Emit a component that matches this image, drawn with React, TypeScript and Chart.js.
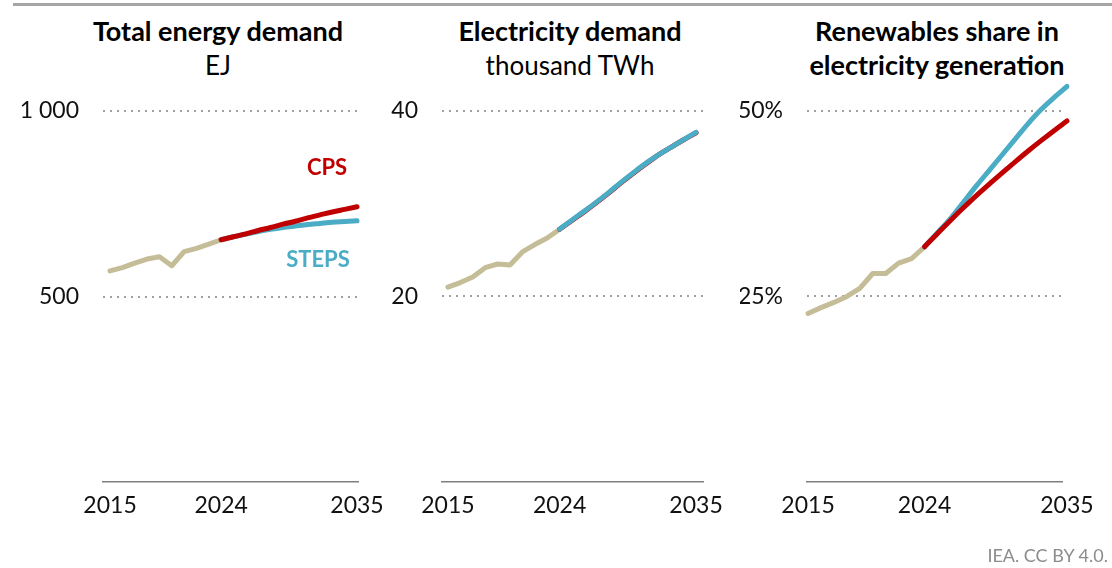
import React, { useEffect, useRef } from "react";
import { Chart, registerables } from "chart.js";

Chart.register(...registerables);

// ---------- data ----------
const years = [2015, 2016, 2017, 2018, 2019, 2020, 2021, 2022, 2023, 2024, 2025, 2026, 2027, 2028, 2029, 2030, 2031, 2032, 2033, 2034, 2035];
const xTickYears = [2015, 2024, 2035];

// Total energy demand (EJ)
const energyHistory = [569, 578, 590, 601, 607, 583, 621, 630, 641, 653];
const energyCPS = [653, 661, 669, 678, 686, 695, 703, 712, 720, 728, 735, 742];
const energySTEPS = [653, 661, 668, 675, 681, 686, 690, 694, 697, 700, 702, 704];
const energyTicks = [500, 1000];
const energyTickLabels = ["500", "1 000"];

// Electricity demand (thousand TWh)
const elecHistory = [21.0, 21.5, 22.1, 23.1, 23.5, 23.4, 24.8, 25.6, 26.3, 27.25];
const elecCPS = [27.25, 28.2, 29.15, 30.15, 31.2, 32.3, 33.35, 34.35, 35.3, 36.1, 36.9, 37.65];
const elecSTEPS = [27.25, 28.25, 29.2, 30.2, 31.25, 32.35, 33.4, 34.4, 35.3, 36.1, 36.9, 37.7];
const elecTicks = [20, 40];
const elecTickLabels = ["20", "40"];

// Renewables share in electricity generation (%)
const renewHistory = [22.7, 23.5, 24.2, 25.0, 26.1, 28.1, 28.1, 29.5, 30.1, 31.7];
const renewCPS = [31.7, 33.5, 35.25, 36.95, 38.6, 40.15, 41.65, 43.15, 44.6, 46.0, 47.35, 48.65];
const renewSTEPS = [31.7, 33.6, 35.5, 37.7, 39.9, 42.0, 44.1, 46.2, 48.3, 50.2, 51.8, 53.3];
const renewTicks = [25, 50];
const renewTickLabels = ["25%", "50%"];

// ---------- style ----------
const HIST = "#C4BD97";
const CPS = "#C00000";
const STEPS = "#4BACC6";
const FONT = "Lato, 'Noto Sans', sans-serif";

const padHist = (arr: number[]) => years.map((_, i) => (i < arr.length ? arr[i] : null));
const padProj = (arr: number[]) => {
  const start = years.length - arr.length;
  return years.map((_, i) => (i >= start ? arr[i - start] : null));
};

type PanelProps = {
  left: number;
  yAxisWidth: number;
  areaWidth: number;
  xMin: number;
  xMax: number;
  yMax: number;
  history: number[];
  cps: number[];
  steps: number[];
  ticks: number[];
  tickLabels: string[];
  topSeries: "cps" | "steps";
};

function Panel(p: PanelProps) {
  const ref = useRef<HTMLCanvasElement | null>(null);
  const padRight = 40;
  const width = p.yAxisWidth + p.areaWidth + padRight;
  const height = 568;
  useEffect(() => {
    if (!ref.current) return;
    const line = (label: string, data: (number | null)[], color: string, order: number, smooth: boolean) => ({
      label,
      data,
      borderColor: color,
      backgroundColor: color,
      borderWidth: 5,
      pointRadius: 0,
      pointHoverRadius: 0,
      borderCapStyle: "round" as const,
      borderJoinStyle: "round" as const,
      cubicInterpolationMode: smooth ? ("monotone" as const) : ("default" as const),
      tension: 0,
      spanGaps: false,
      clip: false as const,
      order,
    });
    const chart = new Chart(ref.current, {
      type: "line",
      data: {
        labels: years,
        datasets: [
          line("CPS", padProj(p.cps), CPS, p.topSeries === "cps" ? 0 : 1, true),
          line("STEPS", padProj(p.steps), STEPS, p.topSeries === "steps" ? 0 : 1, true),
          line("History", padHist(p.history), HIST, 2, false),
        ],
      },
      options: {
        animation: false,
        responsive: false,
        events: [],
        layout: { padding: { left: 0, right: padRight, top: 81, bottom: 568 - 482 - 40 } },
        plugins: { legend: { display: false }, tooltip: { enabled: false }, title: { display: false } },
        scales: {
          x: {
            type: "linear",
            min: p.xMin,
            max: p.xMax,
            afterBuildTicks: (axis: any) => {
              axis.ticks = xTickYears.map((v) => ({ value: v }));
            },
            afterFit: (axis: any) => {
              axis.height = 40;
            },
            ticks: {
              autoSkip: false,
              maxRotation: 0,
              padding: 10,
              color: "#111",
              font: { family: FONT, size: 23 },
              callback: (v: any) => String(v),
            },
            grid: { display: false, drawTicks: false },
            border: { display: true, color: "#808080", width: 1.5 },
          },
          y: {
            type: "linear",
            min: 0,
            max: p.yMax,
            afterBuildTicks: (axis: any) => {
              axis.ticks = p.ticks.map((v) => ({ value: v }));
            },
            afterFit: (axis: any) => {
              axis.width = p.yAxisWidth;
            },
            ticks: {
              padding: 24,
              color: "#111",
              font: { family: FONT, size: 23 },
              callback: (v: any) => {
                const i = p.ticks.indexOf(Number(v));
                return i >= 0 ? p.tickLabels[i] : "";
              },
            },
            grid: { display: true, drawTicks: false, color: "#A0A0A0", lineWidth: 2 },
            border: { display: false, dash: [2, 5] },
          },
        },
      },
    });
    return () => chart.destroy();
  }, []);
  return (
    <canvas
      ref={ref}
      width={width}
      height={height}
      style={{ position: "absolute", left: p.left, top: 0, width, height }}
    />
  );
}

const titleStyle = (cx: number): React.CSSProperties => ({
  position: "absolute",
  left: cx - 200,
  width: 400,
  top: 14,
  textAlign: "center",
  fontFamily: FONT,
  fontSize: 27,
  lineHeight: "34px",
  color: "#000",
});

export default function App() {
  return (
    <div
      style={{
        position: "fixed",
        left: 0,
        top: 0,
        width: 1112,
        height: 568,
        background: "#fff",
        overflow: "hidden",
      }}
    >
      <div style={{ position: "absolute", left: 13, right: 0, top: 3, height: 3, background: "#A6A6A6" }} />

      <div style={titleStyle(218)}>
        <div style={{ fontWeight: 700 }}>Total energy demand</div>
        <div style={{ fontWeight: 400, fontSize: 26 }}>EJ</div>
      </div>
      <div style={titleStyle(570)}>
        <div style={{ fontWeight: 700 }}>Electricity demand</div>
        <div style={{ fontWeight: 400, fontSize: 26 }}>thousand TWh</div>
      </div>
      <div style={titleStyle(937)}>
        <div style={{ fontWeight: 700 }}>Renewables share in</div>
        <div style={{ fontWeight: 700 }}>electricity generation</div>
      </div>

      <Panel
        left={0}
        yAxisWidth={103}
        areaWidth={255}
        xMin={2014.43}
        xMax={2035.08}
        yMax={1081}
        history={energyHistory}
        cps={energyCPS}
        steps={energySTEPS}
        ticks={energyTicks}
        tickLabels={energyTickLabels}
        topSeries="cps"
      />
      <Panel
        left={390}
        yAxisWidth={52}
        areaWidth={261}
        xMin={2014.52}
        xMax={2035.56}
        yMax={43.23}
        history={elecHistory}
        cps={elecCPS}
        steps={elecSTEPS}
        ticks={elecTicks}
        tickLabels={elecTickLabels}
        topSeries="steps"
      />
      <Panel
        left={740}
        yAxisWidth={67}
        areaWidth={256}
        xMin={2014.92}
        xMax={2034.69}
        yMax={54.04}
        history={renewHistory}
        cps={renewCPS}
        steps={renewSTEPS}
        ticks={renewTicks}
        tickLabels={renewTickLabels}
        topSeries="cps"
      />

      <div
        style={{
          position: "absolute",
          left: 327 - 40,
          width: 80,
          top: 156,
          textAlign: "center",
          fontFamily: FONT,
          fontWeight: 700,
          fontSize: 22,
          lineHeight: 1,
          color: CPS,
        }}
      >
        CPS
      </div>
      <div
        style={{
          position: "absolute",
          left: 318 - 50,
          width: 100,
          top: 248,
          textAlign: "center",
          fontFamily: FONT,
          fontWeight: 700,
          fontSize: 22,
          lineHeight: 1,
          color: STEPS,
        }}
      >
        STEPS
      </div>

      <div
        style={{
          position: "absolute",
          right: 4,
          top: 546,
          fontFamily: FONT,
          fontSize: 18,
          lineHeight: 1,
          color: "#8C8C8C",
        }}
      >
        IEA. CC BY 4.0.
      </div>
    </div>
  );
}
